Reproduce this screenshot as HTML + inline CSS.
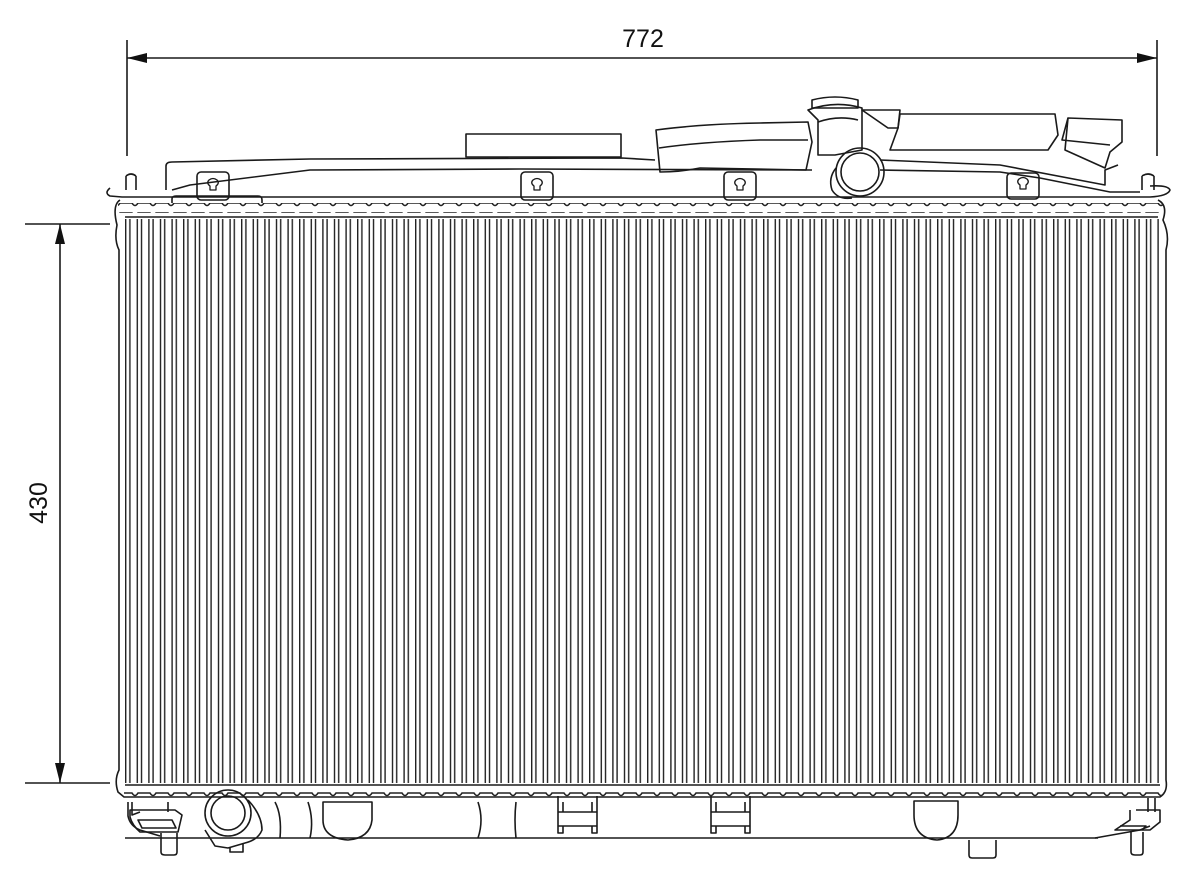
<!DOCTYPE html>
<html><head><meta charset="utf-8"><style>
html,body{margin:0;padding:0;background:#fff;}
svg{display:block}
</style></head><body>
<svg width="1200" height="883" viewBox="0 0 1200 883" xmlns="http://www.w3.org/2000/svg">
<defs>
<pattern id="fins" x="125" y="0" width="11.6" height="10" patternUnits="userSpaceOnUse">
<rect x="0" y="0" width="1.4" height="10" fill="#222"/>
<rect x="4.2" y="0" width="1.4" height="10" fill="#222"/>
</pattern>
<pattern id="wave" x="0" y="0" width="18" height="10" patternUnits="userSpaceOnUse">
<path d="M0,3 H6 Q9,8 12,3 H18" fill="none" stroke="#222" stroke-width="1.6"/>
</pattern>
</defs>
<g fill="none" stroke="#1a1a1a" stroke-width="1.6">
<line x1="127" y1="40" x2="127" y2="156"/>
<line x1="1157" y1="40" x2="1157" y2="156"/>
<line x1="127" y1="58" x2="1157" y2="58"/>
<line x1="25" y1="224" x2="110" y2="224"/>
<line x1="25" y1="783" x2="110" y2="783"/>
<line x1="60" y1="224" x2="60" y2="783"/>
</g>
<polygon points="127,58 147,53 147,63" fill="#111"/>
<polygon points="1157,58 1137,53 1137,63" fill="#111"/>
<polygon points="60,224 55,244 65,244" fill="#111"/>
<polygon points="60,783 55,763 65,763" fill="#111"/>
<text x="643" y="47" font-family="Liberation Sans, sans-serif" font-size="25" text-anchor="middle" fill="#111">772</text>
<text transform="translate(47,503) rotate(-90)" font-family="Liberation Sans, sans-serif" font-size="25" text-anchor="middle" fill="#111">430</text>

<rect x="125" y="219" width="1035" height="564" fill="url(#fins)"/>
<g fill="none" stroke="#1a1a1a" stroke-width="1.6">
<path d="M120,200 Q112,205 117,225 Q114,240 119,250 V770 Q114,780 118,792 L124,797 H1160 Q1168,792 1166,780 V250 Q1170,235 1163,220 Q1168,205 1158,200"/>
<line x1="125" y1="217" x2="1158" y2="217"/>
<line x1="125" y1="785" x2="1160" y2="785"/>
</g>
<rect x="118" y="203" width="1045" height="10" fill="url(#wave)"/>
<rect x="124" y="792" width="1040" height="10" fill="url(#wave)"/>

<g fill="none" stroke="#1a1a1a" stroke-width="1.6" stroke-linejoin="round">
<path d="M110,188 Q104,193 110,196 L122,197 H1150 Q1168,196 1170,190 Q1168,185 1150,186"/>
<path d="M126,176 V190 M136,176 V190 M126,176 Q131,172 136,176"/>
<path d="M1142,176 V190 M1154,176 V190 M1142,176 Q1148,172 1154,176"/>
<path d="M166,190 V166 Q166,162 172,162 L310,159 L622,158 L655,160"/>
<path d="M172,190 L190,185 L310,170 L520,169 L812,170"/>
<path d="M172,203 V199 Q172,196 176,196 H258 Q262,196 262,200 V203"/>
<rect x="466" y="134" width="155" height="23"/>
<rect x="197" y="172" width="32" height="28" rx="4"/>
<rect x="521" y="172" width="32" height="28" rx="4"/>
<rect x="724" y="172" width="32" height="28" rx="4"/>
<rect x="1007" y="173" width="32" height="26" rx="4"/>
<g stroke-width="1.3">
<path d="M210,190 V186 Q206,183 209,180 Q213,177 217,180 Q220,183 216,186 V190 Z"/>
<path d="M534,190 V186 Q530,183 533,180 Q537,177 541,180 Q544,183 540,186 V190 Z"/>
<path d="M737,190 V186 Q733,183 736,180 Q740,177 744,180 Q747,183 743,186 V190 Z"/>
<path d="M1020,189 V185 Q1016,182 1019,179 Q1023,176 1027,179 Q1030,182 1026,185 V189 Z"/>
</g>
<path d="M656,130 Q700,124 760,123 L808,122 L812,142 L806,170 L700,168 Q680,172 660,172 Z"/>
<path d="M659,148 Q700,142 760,140 L808,140"/>
<path d="M812,100 Q835,94 858,100 L858,108 L812,108 Z"/>
<path d="M808,110 Q835,100 862,108 V150 L835,155 H818 V120 Z"/>
<path d="M818,122 Q838,115 858,120"/>
<circle cx="860" cy="172" r="24"/>
<circle cx="860" cy="172" r="19"/>
<path d="M836,168 Q828,178 832,190 Q838,200 852,198"/>
<path d="M862,110 H900 L898,128 H888 Z"/>
<path d="M900,114 H1055 L1058,135 L1048,150 H890 L898,128 Z"/>
<path d="M880,160 L1000,165 L1105,185 V170 L1118,165"/>
<path d="M880,170 L1000,172 L1040,178 L1110,192 L1140,192"/>
<path d="M1068,118 L1122,120 V142 L1110,152 L1105,168 L1065,150 Z"/>
<path d="M1068,118 L1062,140 L1110,145"/>

<path d="M128,802 V816 Q130,826 140,830 L160,836 M1095,838 L1140,830 L1150,826"/>
<line x1="125" y1="838" x2="1098" y2="838"/>
<path d="M132,802 V815 L140,812 M168,802 V812"/>
<path d="M130,810 H175 L182,815 L178,832 L140,832 Q132,825 130,817 Z"/>
<path d="M138,820 H172 L176,828 H142 Z"/>
<path d="M161,833 V852 Q161,855 165,855 H174 Q177,855 177,852 V833"/>
<circle cx="228" cy="813" r="23"/>
<circle cx="228" cy="813" r="17"/>
<path d="M248,800 Q262,815 262,830 Q258,840 245,843 L228,848 L215,846 L205,830"/>
<path d="M230,848 V852 H243 V843"/>
<path d="M275,802 Q282,815 280,838 M308,802 Q314,820 310,838"/>
<path d="M323,802 V820 Q323,838 348,840 Q370,838 372,820 V802 Z"/>
<path d="M478,802 Q484,820 478,838 M516,802 Q514,820 516,838"/>
<path d="M558,796 V833 H563 V826 H592 V833 H597 V796 M558,812 H597 M563,802 V812 M592,802 V812 M558,826 H597"/>
<path d="M711,796 V833 H716 V826 H745 V833 H750 V796 M711,812 H750 M716,802 V812 M745,802 V812 M711,826 H750"/>
<path d="M914,801 V815 Q914,838 937,840 Q958,838 958,815 V801 Z"/>
<path d="M969,840 V855 Q969,858 972,858 H993 Q996,858 996,855 V840"/>
<path d="M1148,798 V812 M1155,798 V812 M1136,810 H1160 V822 L1150,830 H1115 L1130,820 V810"/>
<path d="M1120,826 H1146 L1142,830"/>
<path d="M1131,832 V852 Q1131,855 1135,855 H1140 Q1143,855 1143,852 V832"/>
</g>
</svg>
</body></html>
